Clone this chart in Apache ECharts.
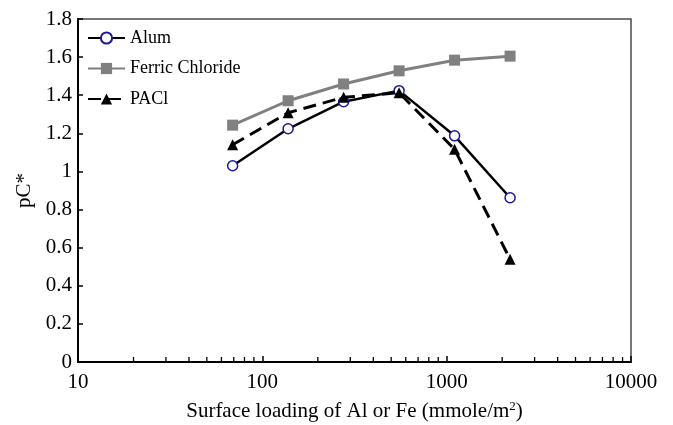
<!DOCTYPE html>
<html>
<head>
<meta charset="utf-8">
<script src="https://cdn.jsdelivr.net/npm/echarts@6/dist/echarts.min.js"></script>
<style>html,body{margin:0;padding:0;background:#fff;}#c{width:673px;height:425px;}</style>
</head>
<body>
<div id="c"></div>
<script>
var loading = [69, 138, 276, 552, 1104, 2208];
var alum = [1.03, 1.224, 1.366, 1.424, 1.187, 0.862];
var ferric = [1.243, 1.371, 1.459, 1.528, 1.584, 1.605];
var pacl = [1.14, 1.308, 1.389, 1.413, 1.116, 0.539];
var minorTicks = [20,30,40,50,60,70,80,90,200,300,400,500,600,700,800,900,2000,3000,4000,5000,6000,7000,8000,9000];
var seriesNames = ['Alum', 'Ferric Chloride', 'PACl'];

function pairs(xs, ys) { return xs.map(function (x, i) { return [x, ys[i]]; }); }
var FONT = 'Liberation Serif';

var chart = echarts.init(document.getElementById('c'), null, {renderer: 'canvas'});
chart.setOption({
  animation: false,
  backgroundColor: '#fff',
  grid: {left: 78, right: 42, top: 19, height: 343, show: true, borderColor: '#4a4a4a', borderWidth: 1.5,
    backgroundColor: 'transparent', containLabel: false, outerBoundsMode: 'none'},
  legend: {
    data: seriesNames,
    orient: 'vertical',
    left: 87, top: 28, padding: 0,
    itemWidth: 37, itemHeight: 14, itemGap: 10.5,
    textStyle: {fontFamily: FONT, fontSize: 18, color: '#000', lineHeight: 20}
  },
  xAxis: {
    type: 'log', logBase: 10, min: 10, max: 10000,
    name: 'Surface loading of Al or Fe (mmole/m{sup|2})',
    nameLocation: 'middle', nameGap: 38,
    nameTextStyle: {fontFamily: FONT, fontSize: 21, color: '#000', lineHeight: 23,
      rich: {sup: {fontFamily: FONT, fontSize: 13, verticalAlign: 'top', lineHeight: 23, padding: [0,0,10,0]}}},
    axisLine: {lineStyle: {color: '#000', width: 2}},
    axisTick: {inside: true, length: 6, lineStyle: {color: '#000', width: 1.5}},
    axisLabel: {fontFamily: FONT, fontSize: 21, color: '#000', margin: 10,
      formatter: function (v) { return String(Math.round(v)); }},
    splitLine: {show: false}
  },
  yAxis: {
    type: 'value', min: 0, max: 1.8, interval: 0.2,
    name: 'pC*', nameLocation: 'middle', nameGap: 42,
    nameTextStyle: {fontFamily: FONT, fontSize: 21, color: '#000'},
    axisLine: {show: true, lineStyle: {color: '#000', width: 2}},
    axisTick: {show: true, inside: true, length: 5, lineStyle: {color: '#000', width: 1.5}},
    axisLabel: {fontFamily: FONT, fontSize: 21, color: '#000', margin: 6},
    splitLine: {show: false}
  },
  series: [
    {
      name: 'Alum', type: 'line', data: pairs(loading, alum),
      symbol: 'circle', symbolSize: 10,
      lineStyle: {color: '#000', width: 2.5},
      itemStyle: {color: '#fff', borderColor: '#1a1a96', borderWidth: 1.5},
      z: 3
    },
    {
      name: 'Ferric Chloride', type: 'line', data: pairs(loading, ferric),
      symbol: 'rect', symbolSize: 11,
      lineStyle: {color: '#808080', width: 3},
      itemStyle: {color: '#808080'},
      z: 2
    },
    {
      name: 'PACl', type: 'line', data: pairs(loading, pacl),
      symbol: 'triangle', symbolSize: 11,
      lineStyle: {color: '#000', width: 3, type: [13, 7]},
      itemStyle: {color: '#000'},
      z: 4
    },
    {
      name: 'minorTicks', type: 'custom', silent: true, z: 5,
      data: minorTicks.map(function (v) { return [v, 0]; }),
      renderItem: function (params, api) {
        var p = api.coord([api.value(0), 0]);
        return {type: 'line', shape: {x1: p[0], y1: p[1], x2: p[0], y2: p[1] - 5},
          style: {stroke: '#000', lineWidth: 1.3}};
      }
    }
  ]
});
</script>
</body>
</html>
